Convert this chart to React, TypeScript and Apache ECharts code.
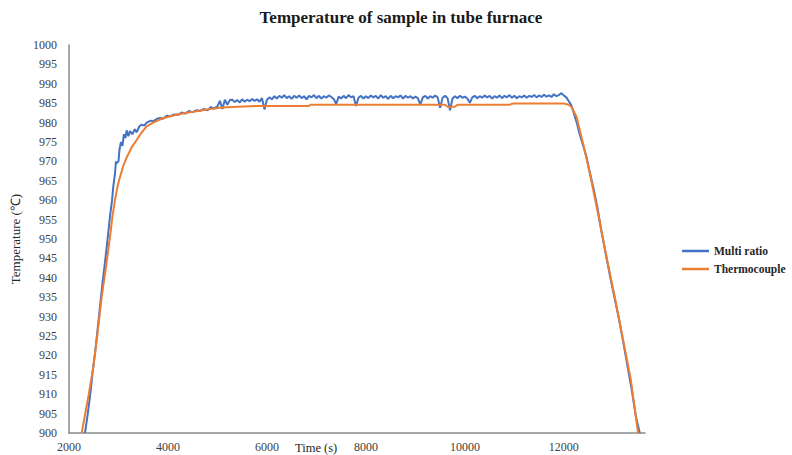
import React, { useEffect, useRef } from "react";
import * as echarts from "echarts";

const chartTitle = "Temperature of sample in tube furnace";
const xAxisTitle = "Time (s)";
const yAxisTitle = "Temperature (℃)";
const seriesNames = ["Multi ratio", "Thermocouple"];

// [time (s), temperature (℃)]
const multiRatio: [number, number][] = [
  [2323, 900], [2380, 905], [2430, 910], [2480, 916], [2530, 921], [2580, 927],
  [2630, 933], [2680, 939], [2727, 944], [2780, 950], [2828, 955.8], [2870, 960],
  [2895, 963.5], [2930, 967], [2949, 970], [2960, 969.5], [3000, 970],
  [3020, 973], [3050, 975], [3080, 974], [3110, 977], [3140, 976], [3165, 978],
  [3200, 976.5], [3232, 977.8], [3280, 977], [3330, 978.3], [3367, 977.5],
  [3420, 979], [3470, 979.5], [3520, 979.2], [3569, 980], [3650, 980.5],
  [3700, 980.3], [3780, 981], [3838, 981.2], [3900, 981], [3980, 981.8],
  [4050, 981.6], [4120, 982.1], [4200, 982], [4280, 982.6], [4350, 982.3],
  [4420, 983], [4500, 982.7], [4580, 983.2], [4650, 983], [4720, 983.5],
  [4800, 983.2], [4870, 984], [4930, 983.6], [5000, 984.2], [5050, 985.6],
  [5100, 983.5], [5150, 985.9], [5200, 984.6], [5250, 985.8],
  [5300, 985.9], [5350, 985.3], [5400, 985.8], [5450, 985.2], [5500, 986.0],
  [5550, 985.4], [5600, 985.9], [5650, 985.5], [5700, 986.1], [5750, 985.6],
  [5800, 986.0], [5850, 985.4], [5900, 986.3], [5950, 983.4], [6000, 985.9],
  [6050, 986.5], [6100, 986.0], [6150, 986.8], [6200, 986.2], [6250, 986.9],
  [6300, 986.4], [6350, 987.1], [6400, 986.3], [6450, 986.8], [6500, 986.1],
  [6550, 986.9], [6600, 986.4], [6650, 987.0], [6700, 986.3], [6750, 986.8],
  [6800, 986.0], [6850, 986.9], [6900, 986.5], [6950, 987.1], [7000, 986.3],
  [7050, 986.9], [7100, 986.2], [7150, 986.8], [7200, 986.4], [7250, 987.0],
  [7300, 986.6], [7350, 986.1], [7400, 984.8], [7450, 986.7], [7500, 986.2],
  [7550, 986.9], [7600, 986.3], [7650, 987.1], [7700, 986.5], [7750, 986.8],
  [7800, 984.3], [7850, 986.4], [7900, 986.9], [7950, 986.2], [8000, 986.8],
  [8050, 986.3], [8100, 987.0], [8150, 986.5], [8200, 986.9], [8250, 986.2],
  [8300, 987.1], [8350, 986.4], [8400, 986.8], [8450, 986.1], [8500, 986.9],
  [8550, 986.3], [8600, 986.8], [8650, 986.5], [8700, 987.0], [8750, 986.2],
  [8800, 986.9], [8850, 986.4], [8900, 986.8], [8950, 986.2], [9000, 986.7],
  [9050, 986.3], [9100, 984.6], [9150, 986.5], [9200, 986.9], [9250, 986.2],
  [9300, 986.8], [9350, 986.4], [9400, 987.0], [9450, 986.5], [9500, 983.8],
  [9550, 986.4], [9600, 986.9], [9650, 986.3], [9700, 983.2], [9750, 986.2],
  [9800, 986.8], [9850, 986.3], [9900, 986.9], [9950, 986.4], [10000, 986.7],
  [10050, 986.2], [10100, 985.1], [10150, 986.5], [10200, 986.9], [10250, 986.3],
  [10300, 986.8], [10350, 986.4], [10400, 987.0], [10450, 986.5], [10500, 986.9],
  [10550, 986.2], [10600, 986.8], [10650, 986.4], [10700, 987.0], [10750, 986.3],
  [10800, 986.9], [10850, 986.5], [10900, 987.1], [10950, 986.4], [11000, 986.9],
  [11050, 986.3], [11100, 986.8], [11150, 986.5], [11200, 987.0], [11250, 986.4],
  [11300, 986.9], [11350, 986.6], [11400, 987.1], [11450, 986.5], [11500, 987.0],
  [11550, 986.6], [11600, 987.2], [11650, 986.7], [11700, 987.0], [11750, 986.6],
  [11800, 987.3], [11850, 986.8], [11900, 987.1], [11950, 987.6], [12000, 987.0],
  [12050, 986.5], [12100, 985.5], [12150, 984.5], [12200, 982.5], [12260, 980],
  [12320, 977], [12380, 974.5], [12450, 971.5], [12520, 967.5], [12600, 963],
  [12680, 958], [12760, 952], [12850, 946], [12940, 940], [13030, 934.5],
  [13120, 929], [13200, 923.5], [13290, 917], [13380, 910.5], [13460, 904],
  [13534, 900],
];

const thermocouple: [number, number][] = [
  [2256, 900], [2400, 910], [2491, 917], [2580, 926], [2660, 935], [2750, 943],
  [2828, 950.5], [2880, 956], [2929, 960], [2980, 963.5], [3030, 966],
  [3100, 969], [3165, 971], [3260, 973.5], [3367, 975.5], [3470, 977.5],
  [3569, 979], [3700, 980], [3838, 980.8], [4000, 981.5], [4175, 982],
  [4350, 982.5], [4505, 982.8], [4700, 983.2], [4900, 983.6], [5100, 983.9],
  [5400, 984.1], [5800, 984.3], [6850, 984.3], [6880, 984.6], [9600, 984.6],
  [9650, 984.1], [9800, 984.1], [9850, 984.6], [10900, 984.6], [10970, 984.9],
  [12000, 984.9], [12100, 984.6], [12155, 984], [12256, 981.5], [12400, 974],
  [12524, 967], [12700, 956], [12861, 945.4], [13030, 935], [13197, 924],
  [13350, 914], [13500, 900],
];

const xMin = 2000;
const xMax = 13640;
const xStep = 2000;
const yMin = 900;
const yMax = 1000;
const yStep = 5;

const SERIF = "'Liberation Serif', 'Times New Roman', serif";

export default function App() {
  const ref = useRef<HTMLDivElement>(null);
  useEffect(() => {
    document.body.style.margin = "0";
    if (!ref.current) return;
    const chart = echarts.init(ref.current, undefined, { renderer: "svg" });
    chart.setOption({
      animation: false,
      backgroundColor: "#ffffff",
      textStyle: { fontFamily: SERIF },
      grid: { left: 69, right: 147, top: 45, bottom: 22, containLabel: false },
      legend: {
        orient: "vertical",
        left: 682,
        top: 245,
        padding: 0,
        icon: "rect",
        itemWidth: 27,
        itemHeight: 2.5,
        itemGap: 6,
        data: seriesNames,
        textStyle: { fontFamily: SERIF, fontSize: 11.5, fontWeight: "bold", color: "#262626" },
      },
      xAxis: {
        type: "value",
        min: xMin,
        max: xMax,
        interval: xStep,
        splitLine: { show: false },
        axisTick: { show: false },
        axisLine: { show: true, lineStyle: { color: "#8a8a8a", width: 1.5 } },
        axisLabel: {
          showMaxLabel: false,
          margin: 8,
          fontFamily: SERIF,
          fontSize: 12,
          color: "#404040",
          formatter: (v: number) => String(v),
        },
      },
      yAxis: {
        type: "value",
        min: yMin,
        max: yMax,
        interval: yStep,
        name: yAxisTitle,
        nameLocation: "middle",
        nameGap: 32,
        nameTextStyle: { fontFamily: SERIF, fontSize: 13, color: "#262626" },
        splitLine: { show: false },
        axisTick: { show: false },
        axisLine: { show: true, lineStyle: { color: "#8a8a8a", width: 1.5 } },
        axisLabel: {
          margin: 12,
          fontFamily: SERIF,
          fontSize: 12,
          color: "#404040",
          formatter: (v: number) => String(v),
        },
      },
      graphic: [
        {
          type: "text",
          x: 401,
          y: 9,
          style: {
            text: chartTitle,
            font: `bold 17px ${SERIF}`,
            fill: "#1a1a1a",
            textAlign: "center",
          },
        },
        {
          type: "text",
          x: 295,
          y: 441,
          style: { text: xAxisTitle, font: `12.5px ${SERIF}`, fill: "#262626" },
        },
      ],
      series: [
        {
          name: seriesNames[0],
          type: "line",
          data: multiRatio,
          showSymbol: false,
          lineStyle: { color: "#4472C4", width: 2 },
          itemStyle: { color: "#4472C4" },
        },
        {
          name: seriesNames[1],
          type: "line",
          data: thermocouple,
          showSymbol: false,
          lineStyle: { color: "#ED7D31", width: 2 },
          itemStyle: { color: "#ED7D31" },
        },
      ],
    });
    return () => chart.dispose();
  }, []);
  return <div ref={ref} style={{ width: 792, height: 455 }} />;
}
